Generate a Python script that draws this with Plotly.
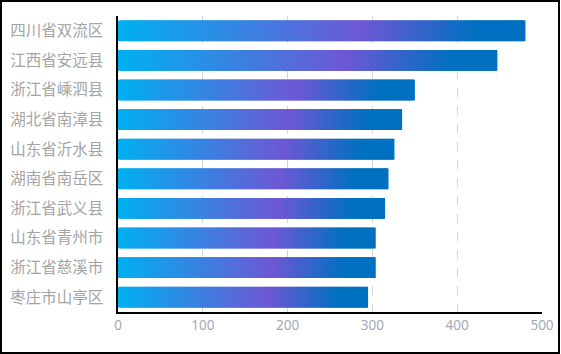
import plotly.graph_objects as go

categories = ["四川省双流区", "江西省安远县", "浙江省嵊泗县", "湖北省南漳县", "山东省沂水县",
              "湖南省南岳区", "浙江省武义县", "山东省青州市", "浙江省慈溪市", "枣庄市山亭区"]
values = [479, 446, 349, 334, 325, 318, 314, 303, 303, 294]
x_ticks = [0, 100, 200, 300, 400, 500]

# gradient stops along each bar (fraction, rgb)
stops = [(0.0, (0, 176, 240)), (0.60, (110, 88, 212)), (0.88, (0, 112, 192)), (1.0, (0, 112, 192))]

def color_at(t):
    for (a, ca), (b, cb) in zip(stops[:-1], stops[1:]):
        if a <= t <= b:
            f = (t - a) / (b - a) if b > a else 0
            c = [round(ca[k] + (cb[k] - ca[k]) * f) for k in range(3)]
            return "rgb(%d,%d,%d)" % tuple(c)
    return "rgb(0,112,192)"

pos = list(range(len(categories)))

N = 160
ys, xs, bases, cols = [], [], [], []
for p, v in zip(pos, values):
    for i in range(N):
        t = (i + 0.5) / N
        ys.append(p)
        bases.append(v * i / N)
        w = v / N
        xs.append(w * 2.5 if i < N - 1 else w)
        cols.append(color_at(t))

fig = go.Figure()
fig.add_trace(go.Bar(
    y=ys, x=xs, base=bases, orientation="h", width=0.7,
    marker=dict(color=cols, line=dict(width=0)),
    hoverinfo="skip", showlegend=False,
))

fig.update_layout(
    width=561, height=354,
    margin=dict(l=118, r=19, t=16, b=42, autoexpand=False),
    paper_bgcolor="white", plot_bgcolor="white",
    barmode="overlay",
    font=dict(family="Noto Sans CJK SC, Noto Sans, sans-serif"),
    xaxis=dict(
        range=[0, 500], tickvals=x_ticks, ticktext=[str(t) for t in x_ticks],
        showgrid=True, gridcolor="#d4d4d4", griddash="dash", gridwidth=1,
        zeroline=False, showline=True, linecolor="black", linewidth=1.5,
        ticks="", tickfont=dict(size=13.5, color="#a3a9b4", family="Noto Sans, sans-serif"),
        automargin=False, fixedrange=True,
    ),
    yaxis=dict(
        range=[len(categories) - 0.5, -0.5], tickvals=pos, ticktext=categories,
        showgrid=False, zeroline=False, showline=True, linecolor="black", linewidth=1.5,
        ticks="", ticklabelstandoff=10,
        tickfont=dict(size=15.5, color="#a4a4a4"),
        automargin=False, fixedrange=True,
    ),
    shapes=[dict(
        type="rect", xref="paper", yref="paper",
        x0=(1 - 118) / 424, x1=(559 - 118) / 424,
        y0=-(354 - 1 - 312) / 296, y1=(312 - 1) / 296,
        line=dict(color="black", width=2), fillcolor="rgba(0,0,0,0)", layer="above",
    )],
)

fig.write_html("out.html")
